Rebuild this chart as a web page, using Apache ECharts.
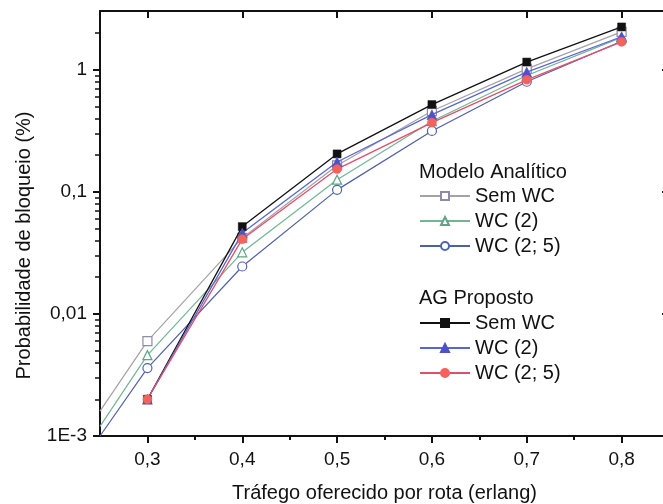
<!DOCTYPE html>
<html><head><meta charset="utf-8">
<script src="https://cdn.jsdelivr.net/npm/echarts@6/dist/echarts.min.js"></script>
<style>html,body{margin:0;padding:0;background:#fff}#c{width:663px;height:504px}</style>
</head><body><div id="c"></div>
<script>
// ---- data ----
const xAG = [0.3, 0.4, 0.5, 0.6, 0.7, 0.8];
const xAnalytic = [0.25, 0.3, 0.4, 0.5, 0.6, 0.7, 0.8];
const anaSemWC = [0.0016, 0.0060, 0.042, 0.165, 0.46, 1.02, 2.05];
const anaWC2   = [0.0012, 0.0046, 0.032, 0.126, 0.38, 0.90, 1.85];
const anaWC25  = [0.0010, 0.0036, 0.0245, 0.104, 0.316, 0.80, 1.72];
const agSemWC = [0.002, 0.052, 0.205, 0.52, 1.16, 2.25];
const agWC2   = [0.002, 0.046, 0.176, 0.43, 0.96, 1.87];
const agWC25  = [0.002, 0.041, 0.154, 0.37, 0.83, 1.70];
const xTicks = [0.3, 0.4, 0.5, 0.6, 0.7, 0.8];
const xTickLabels = ['0,3', '0,4', '0,5', '0,6', '0,7', '0,8'];
const xMinorTicks = [0.35, 0.45, 0.55, 0.65, 0.75];
const yTicks = [0.001, 0.01, 0.1, 1];
const yTickLabels = ['1E-3', '0,01', '0,1', '1'];
const yMinorTicks = [0.002,0.003,0.004,0.005,0.006,0.007,0.008,0.009,
  0.02,0.03,0.04,0.05,0.06,0.07,0.08,0.09,
  0.2,0.3,0.4,0.5,0.6,0.7,0.8,0.9, 2];
const legendNames = {A1:'Sem WC', A2:'WC (2)', A3:'WC (2; 5)', G1:'Sem WC', G2:'WC (2)', G3:'WC (2; 5)'};

const FONT = 'Liberation Sans, Arial, sans-serif';
const XMIN = 0.25, XMAX = 0.85, YMIN = 0.001, YMAX = 3.04;

function pairs(xs, ys, hideFirst) {
  return ys.map((v, i) => (hideFirst && i === 0) ? {value: [xs[i], v], symbol: 'none'} : [xs[i], v]);
}
function anaSeries(name, ys, sym, lineColor, symColor) {
  return {name, type:'line', xAxisIndex:0, yAxisIndex:0, data: pairs(xAnalytic, ys, true),
    symbol: sym, symbolSize: 9, showSymbol: true,
    lineStyle:{color: lineColor, width: 1.2}, itemStyle:{color:'#fff', borderColor: symColor, borderWidth: 1.2},
    z: 2, animation:false};
}
function agSeries(name, ys, sym, lineColor, symColor, size) {
  return {name, type:'line', xAxisIndex:0, yAxisIndex:0, data: pairs(xAG, ys, false),
    symbol: sym, symbolSize: size,
    lineStyle:{color: lineColor, width: 1.3}, itemStyle:{color: symColor, borderColor: symColor, borderWidth: 0.5},
    z: 3, animation:false};
}

const chart = echarts.init(document.getElementById('c'), null, {renderer:'canvas'});
const axisLine = {show:true, lineStyle:{color:'#111', width:2}};
const txt = {fontFamily:FONT, fontSize:20, color:'#111'};
chart.setOption({
  backgroundColor:'#fff',
  animation:false,
  grid:{left:100, top:11, right:-6, bottom:68, containLabel:false, outerBoundsMode:'none'},
  title:[
    {text:'Modelo Analítico', left:419, top:162, padding:0, textStyle:Object.assign({fontWeight:'normal'}, txt)},
    {text:'AG Proposto', left:419, top:288, padding:0, textStyle:Object.assign({fontWeight:'normal'}, txt)}
  ],
  legend:[
    {data:['A1','A2','A3'], orient:'vertical', left:419, top:186, padding:0, itemWidth:50, itemHeight:10, itemGap:5,
     selectedMode:false, formatter:n => legendNames[n], textStyle:txt},
    {data:['G1','G2','G3'], orient:'vertical', left:419, top:313, padding:0, itemWidth:50, itemHeight:10, itemGap:5,
     selectedMode:false, formatter:n => legendNames[n], textStyle:txt}
  ],
  xAxis:[
    {type:'value', position:'bottom', min:XMIN, max:XMAX, axisLine,
     axisTick:{show:true, length:7, lineStyle:{color:'#111', width:2}, customValues:xTicks},
     axisLabel:{customValues:xTicks, margin:14, fontSize:19, fontFamily:FONT, color:'#111',
       formatter:v => xTickLabels[xTicks.findIndex(t => Math.abs(t - v) < 1e-6)] || ''},
     splitLine:{show:false},
     name:'Tráfego oferecido por rota (erlang)', nameLocation:'middle', nameGap:47,
     nameTextStyle:txt},
    {type:'value', position:'bottom', min:XMIN, max:XMAX, axisLine:{show:false},
     axisTick:{show:true, length:4, lineStyle:{color:'#111', width:2}, customValues:xMinorTicks},
     axisLabel:{show:false}, splitLine:{show:false}},
    {type:'value', position:'top', min:XMIN, max:XMAX, axisLine,
     axisTick:{show:true, inside:true, length:7, lineStyle:{color:'#111', width:2}, customValues:xTicks},
     axisLabel:{show:false}, splitLine:{show:false}}
  ],
  yAxis:[
    {type:'log', logBase:10, position:'left', min:YMIN, max:YMAX, axisLine,
     axisTick:{show:true, length:7, lineStyle:{color:'#111', width:2}, customValues:yTicks},
     axisLabel:{customValues:yTicks, margin:13, fontFamily:FONT, fontSize:19, color:'#111',
       formatter:v => { const i = yTicks.findIndex(t => Math.abs(Math.log10(t) - Math.log10(v)) < 1e-6); return i >= 0 ? yTickLabels[i] : ''; }},
     splitLine:{show:false},
     name:'Probabilidade de bloqueio (%)', nameLocation:'middle', nameGap:66,
     nameTextStyle:Object.assign({padding:[0, 44, 0, 0]}, txt)},
    {type:'log', logBase:10, position:'left', min:YMIN, max:YMAX, axisLine:{show:false},
     axisTick:{show:true, length:5, lineStyle:{color:'#111', width:1.5}, customValues:yMinorTicks},
     axisLabel:{show:false}, splitLine:{show:false}},
    {type:'log', logBase:10, position:'right', min:YMIN, max:YMAX, axisLine,
     axisTick:{show:true, inside:true, length:7, lineStyle:{color:'#111', width:2}, customValues:yTicks},
     axisLabel:{show:false}, splitLine:{show:false}}
  ],
  series:[
    anaSeries('A1', anaSemWC, 'rect', '#a3a3a3', '#8c8ca8'),
    anaSeries('A2', anaWC2, 'triangle', '#72b594', '#5fa585'),
    anaSeries('A3', anaWC25, 'circle', '#5060a8', '#4f63b4'),
    agSeries('G1', agSemWC, 'rect', '#111', '#111', 8),
    agSeries('G2', agWC2, 'triangle', '#5a66d0', '#4d52c4', 10),
    agSeries('G3', agWC25, 'circle', '#e0506a', '#f4625c', 9)
  ]
});
</script>
</body></html>
